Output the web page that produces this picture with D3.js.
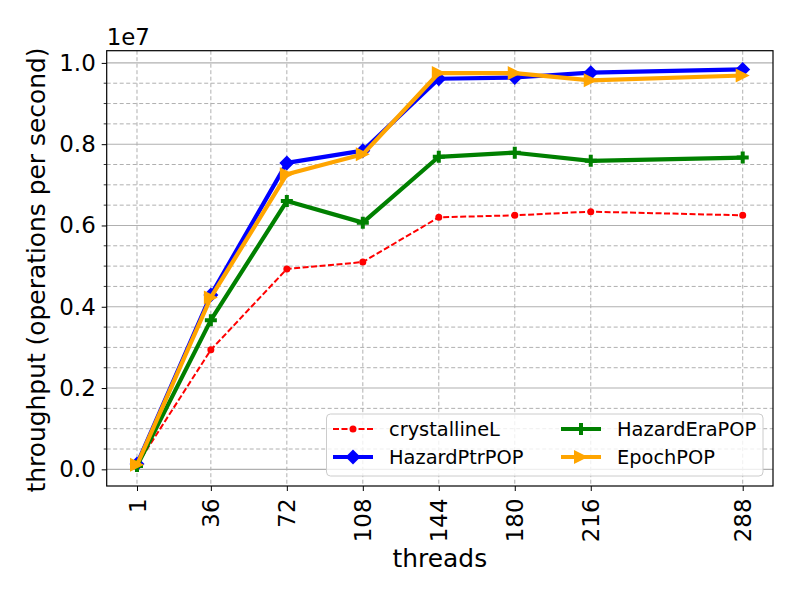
<!DOCTYPE html>
<html>
<head>
<meta charset="utf-8">
<script src="https://cdn.jsdelivr.net/npm/d3@7"></script>
<style>
  body { margin: 0; background: #fff; }
  text { font-family: "DejaVu Sans", sans-serif; fill: #000; }
</style>
</head>
<body>
<svg width="800" height="600"></svg>
<script>
"use strict";

// Data (throughput in units of 1e7 ops/s).

var threads = [1, 36, 72, 108, 144, 180, 216, 288];
var xTicks = [1, 36, 72, 108, 144, 180, 216, 288];
var yTicks = [0.0, 0.2, 0.4, 0.6, 0.8, 1.0];

var crystallineL = [0.011, 0.294, 0.493, 0.510, 0.620, 0.625, 0.634, 0.625];
var hazardPtrPOP = [0.013, 0.429, 0.754, 0.784, 0.961, 0.964, 0.976, 0.984];
var hazardEraPOP = [0.008, 0.367, 0.660, 0.607, 0.769, 0.779, 0.759, 0.767];
var epochPOP     = [0.011, 0.423, 0.726, 0.775, 0.975, 0.975, 0.957, 0.969];

var seriesNames = ["crystallineL", "HazardPtrPOP", "HazardEraPOP", "EpochPOP"];

// SVG and layout.

var svg = d3.select("svg");
var Left = 106.7, Right = 773, Top = 50.7, Bottom = 486;

var x = d3.scaleLinear().domain([-13.35, 302.35]).range([Left, Right]);
var y = d3.scaleLinear().domain([-0.041, 1.030]).range([Bottom, Top]);

var GridColor = "#b0b0b0";
var TickFont = "22.9px";
var LabelFont = "24.9px";

// Grid lines.

var minorTicks = d3.range(-0.0, 1.03, 0.05).filter(function(v){
    return Math.abs(v*5 - Math.round(v*5)) > 1e-6;
});

svg.append("g").selectAll("line")
    .data(minorTicks)
    .enter().append("line")
        .attr("x1", Left).attr("x2", Right)
        .attr("y1", function(d){ return y(d); })
        .attr("y2", function(d){ return y(d); })
        .style("stroke", GridColor)
        .style("stroke-width", 1)
        .style("stroke-dasharray", "4,2.5");

svg.append("g").selectAll("line")
    .data(yTicks)
    .enter().append("line")
        .attr("x1", Left).attr("x2", Right)
        .attr("y1", function(d){ return y(d); })
        .attr("y2", function(d){ return y(d); })
        .style("stroke", GridColor)
        .style("stroke-width", 1.1);

svg.append("g").selectAll("line")
    .data(xTicks)
    .enter().append("line")
        .attr("x1", function(d){ return x(d); })
        .attr("x2", function(d){ return x(d); })
        .attr("y1", Top).attr("y2", Bottom)
        .style("stroke", GridColor)
        .style("stroke-width", 1)
        .style("stroke-dasharray", "4,2.5");

// Axes.

var xAxis = d3.axisBottom(x).tickValues(xTicks).tickSize(5).tickPadding(5)
    .tickFormat(d3.format("d"));
var gx = svg.append("g")
    .attr("transform", "translate(0," + Bottom + ")")
    .call(xAxis);
gx.select(".domain").remove();
gx.selectAll("line").style("stroke", "#000").style("stroke-width", 1);
gx.selectAll("text")
    .style("font-size", TickFont)
    .attr("text-anchor", "end")
    .attr("transform", "rotate(-90)")
    .attr("x", -12.5)
    .attr("y", 0)
    .attr("dy", "0.35em");

var yAxis = d3.axisLeft(y).tickValues(yTicks).tickSize(5).tickPadding(6)
    .tickFormat(d3.format(".1f"));
var gy = svg.append("g")
    .attr("transform", "translate(" + Left + ",0)")
    .call(yAxis);
gy.select(".domain").remove();
gy.selectAll("line").style("stroke", "#000").style("stroke-width", 1);
gy.selectAll("text").style("font-size", TickFont);

// Minor y ticks.
svg.append("g").selectAll("line")
    .data(minorTicks)
    .enter().append("line")
        .attr("x1", Left - 3).attr("x2", Left)
        .attr("y1", function(d){ return y(d); })
        .attr("y2", function(d){ return y(d); })
        .style("stroke", "#000")
        .style("stroke-width", 0.8);

// Frame.
svg.append("rect")
    .attr("x", Left).attr("y", Top)
    .attr("width", Right - Left).attr("height", Bottom - Top)
    .style("fill", "none").style("stroke", "#000").style("stroke-width", 1.2);

// Labels.
svg.append("text")
    .attr("x", (Left + Right) / 2).attr("y", 567)
    .attr("text-anchor", "middle")
    .style("font-size", LabelFont)
    .text("threads");

svg.append("text")
    .attr("transform", "translate(45,270) rotate(-90)")
    .attr("text-anchor", "middle")
    .style("font-size", LabelFont)
    .text("throughput (operations per second)");

svg.append("text")
    .attr("x", Left).attr("y", 45)
    .style("font-size", TickFont)
    .text("1e7");

// Marker shapes.

var Markers = {
    circle: function(s){ return d3.symbol(d3.symbolCircle, s*s*0.785)(); },
    diamond: function(s){
        var h = s/2;
        return "M0," + (-h) + "L" + h + ",0L0," + h + "L" + (-h) + ",0Z";
    },
    plus: function(s){
        var a = s/2, b = s/6;
        return "M" + (-b) + "," + (-a) + "H" + b + "V" + (-b) + "H" + a + "V" + b +
               "H" + b + "V" + a + "H" + (-b) + "V" + b + "H" + (-a) + "V" + (-b) +
               "H" + (-b) + "Z";
    },
    triright: function(s){
        var h = s/2;
        return "M" + h + ",0L" + (-h) + "," + (-h) + "L" + (-h) + "," + h + "Z";
    }
};

var series = [
    {name: "crystallineL", values: crystallineL, color: "#ff0000", width: 2,   dash: "6,2.5", marker: "circle",   size: 7},
    {name: "HazardPtrPOP", values: hazardPtrPOP, color: "#0000ff", width: 4.2, dash: null,    marker: "diamond",  size: 15},
    {name: "HazardEraPOP", values: hazardEraPOP, color: "#008000", width: 4.2, dash: null,    marker: "plus",     size: 12},
    {name: "EpochPOP",     values: epochPOP,     color: "#ffa500", width: 4.2, dash: null,    marker: "triright", size: 14}
];

var line = d3.line()
    .x(function(d){ return x(d.t); })
    .y(function(d){ return y(d.v); });

series.forEach(function(s){
    var pts = threads.map(function(t, i){ return {t: t, v: s.values[i]}; });
    var g = svg.append("g");
    g.append("path")
        .datum(pts)
        .attr("d", line)
        .style("fill", "none")
        .style("stroke", s.color)
        .style("stroke-width", s.width)
        .style("stroke-linejoin", "round")
        .style("stroke-dasharray", s.dash);
    g.selectAll(".m")
        .data(pts)
        .enter().append("path")
            .attr("transform", function(d){ return "translate(" + x(d.t) + "," + y(d.v) + ")"; })
            .attr("d", Markers[s.marker](s.size))
            .style("fill", s.color);
});

// Legend (two columns, column-major order as matplotlib does).

var legend = svg.append("g");
legend.append("rect")
    .attr("x", 326.5).attr("y", 414)
    .attr("width", 436.5).attr("height", 62)
    .attr("rx", 4)
    .style("fill", "#fff").style("fill-opacity", 0.8)
    .style("stroke", "#cccccc").style("stroke-width", 1);

var legendPos = [
    {hx: 333, tx: 389, ty: 429},
    {hx: 333, tx: 389, ty: 457},
    {hx: 561, tx: 617, ty: 429},
    {hx: 561, tx: 617, ty: 457}
];

series.forEach(function(s, i){
    var p = legendPos[i];
    var lg = legend.append("g");
    lg.append("line")
        .attr("x1", p.hx).attr("x2", p.hx + 40)
        .attr("y1", p.ty).attr("y2", p.ty)
        .style("stroke", s.color)
        .style("stroke-width", s.width)
        .style("stroke-dasharray", s.dash);
    lg.append("path")
        .attr("transform", "translate(" + (p.hx + 20) + "," + p.ty + ")")
        .attr("d", Markers[s.marker](s.size))
        .style("fill", s.color);
    lg.append("text")
        .attr("x", p.tx).attr("y", p.ty)
        .attr("dy", "0.36em")
        .style("font-size", "19.4px")
        .text(s.name);
});
</script>
</body>
</html>
